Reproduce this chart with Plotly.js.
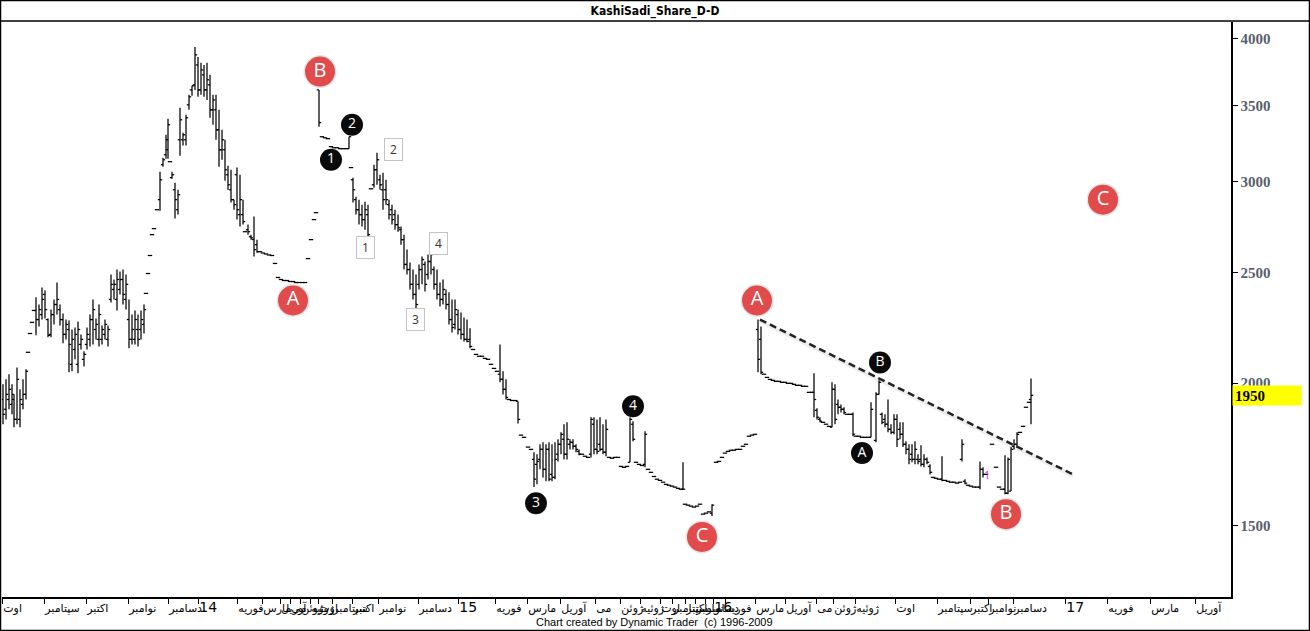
<!DOCTYPE html>
<html><head><meta charset="utf-8">
<script src="https://cdn.plot.ly/plotly-3.0.1.min.js"></script>
<style>html,body{margin:0;padding:0;background:#fff}#chart{width:1310px;height:631px}</style>
</head><body><div id="chart"></div>
<script>
const N = null;
// trading-day position of each bar on the chart's time axis
const day = [
1,4,7,10,12,15,18,21,24,26, 28,30,32,34,37,40,43,46,49,52,
55,58,61,64,67,70,73,76,79,82, 85,88,91,94,97,100,103,106,109,112,
115,118,121,124,127,130,133,136,139,142, 144,146,148,150,152,155,158,161,164,166,
168,170,173,176,178,181,184,187,190,193, 196,199,202,205,208,211,214,217,220,223,
226,229,232,235,238,241,243,246,249,252, 255,258,261,264,267,270,273,276,279,282,
285,288,291,294,297,300,303,306,309,312, 314,317,320,323,326,329,332,335,338,341,
344,347,349,351,354,357,360,363,366,369, 372,375,378,381,384,387,390,393,396,399,
402,405,408,411,414,417,420,423,426,429, 432,435,438,441,444,447,450,453,456,459,
462,465,468,471,474,477,480,483,486,489, 492,495,498,501,504,507,510,513,516,519,
522,526,529,532,535,538,541,544,547,550, 553,556,559,562,565,568,571,574,577,580,
583,586,589,592,595,598,601,604,607,610, 613,616,619,622,625,628,631,634,637,640,
643,646,649,652,655,658,661,664,667,670, 673,676,679,681,683,686,689,692,695,698,
701,704,707,710,714,717,720,723,726,729, 732,735,738,741,744,747,750,753,756,759,
762,765,768,771,774,777,780,783,786,789, 792,795,798,801,804,807,810,812,815,818,
821,824,827,830,833,836,839,842,845,848, 851,854,857,860,863,866,869,874,877,880,
883,886,889,892,895,898,901,904,907,910, 913,916,919,922,925,928,931,934,937,940,
943,946,949,952,955,958,960,963,966,969, 972,975,978,981,984,990,994,997,1000,1003,
1006,1009,1012,1015,1018,1021,1024,1027,1029];
// N = flat session (open/high/low equal close)
const openP = [
1935,1897,1935,1916,1935,1859,1859,1916,1955,N, N,N,N,2315,2273,2296,2391,2273,2206,2296,
2343,2319,2273,2206,2228,2077,2140,2077,2162,2098, 2162,2184,2273,2228,2184,2184,2206,2184,2367,2415,
2367,2415,2464,2367,2273,2184,2184,2228,2228,2251, N,N,N,N,N,N,2894,3105,3168,3200,
N,3025,2952,2836,3265,3265,3265,3503,3610,3647, 3796,3610,3721,3610,3647,3468,3468,3331,3200,3200,
3043,2952,2894,3043,2808,2808,N,2724,2686,2670, 2643,N,N,N,N,N,N,N,N,N,
N,N,N,N,N,N,N,N,N,N, N,3610,N,N,N,N,N,N,N,N,
N,3207,N,3012,2894,2836,2808,2780,2808,N, 2982,3074,3012,2952,2952,2865,2836,2808,2752,2724,
2670,2540,2514,2440,2391,2440,2514,2540,2489,2555, 2514,2440,2391,2367,2391,2343,2273,2251,2296,2228,
2206,2184,2184,N,N,N,N,N,N,N, N,N,2036,2015,1975,N,N,N,1928,N,
N,N,N,1715,1698,1715,1750,1681,1750,1664, 1654,1733,1768,1786,1733,1768,1775,1761,1743,N,
N,N,1733,1841,1750,1768,1750,1740,N,N, N,N,N,N,N,1705,1841,N,N,N,
1698,N,N,N,N,N,N,N,N,N, N,N,N,1615,N,N,N,N,N,N,
N,N,N,1539,N,N,N,N,N,N, N,N,N,N,N,N,N,N,2228,2184,
N,N,N,N,N,N,N,N,N,N, N,N,N,N,N,N,N,1963,1893,1859,
N,N,N,1830,1975,1916,1905,1897,N,N, 1878,N,N,N,N,N,1793,1782,1955,1878,
1859,1841,1822,1811,1859,1822,1804,1768,1750,1733, 1715,1715,1715,1698,1715,1691,N,N,N,1648,
N,N,N,N,N,N,1715,1641,N,N, N,N,1622,1681,N,N,N,N,N,1615,
1602,1609,1761,1768,N,N,N,N,1935];
const highP = [
1995,2015,2036,1995,1955,2064,1975,2015,2056,N, N,N,N,2377,2343,2425,2410,2278,2319,2367,
2449,2343,2301,2273,2269,2228,2237,2264,2206,2132, 2237,2296,2367,2278,2343,2246,2273,2246,2489,2464,
2514,2504,2514,2489,2367,2296,2315,2296,2315,2343, N,N,N,N,N,N,3062,3149,3298,3406,
N,3062,2994,2952,3482,3311,3433,3574,3640,3936, 3858,3812,3796,3812,3721,3574,3574,3468,3331,3265,
3099,3074,2894,3087,3043,2894,N,2752,2697,2797, 2670,N,N,N,N,N,N,N,N,N,
N,N,N,N,N,N,N,N,N,N, N,3610,N,N,N,N,N,N,N,N,
N,3285,N,3025,2911,2894,2865,2882,2865,N, 3105,3181,3043,3055,3012,2894,2865,2836,2808,2741,
2697,2617,2550,2514,2489,2540,2581,2555,2591,2601, 2530,2514,2449,2464,2415,2401,2367,2367,2319,2306,
2282,2273,2233,N,N,N,N,N,N,N, N,N,2162,2048,2015,N,N,N,1928,N,
N,N,N,1740,1733,1768,1775,1768,1775,1768, 1775,1786,1811,1841,1848,1786,1786,1768,1750,N,
N,N,1867,1867,1859,1867,1841,1859,N,N, N,N,N,N,N,1867,1852,N,N,N,
1815,N,N,N,N,N,N,N,N,N, N,N,N,1705,N,N,N,N,N,N,
N,N,N,1567,N,N,N,N,N,N, N,N,N,N,N,N,N,N,2273,2242,
N,N,N,N,N,N,N,N,N,N, N,N,N,N,N,N,N,2040,1901,1867,
N,N,N,2003,1995,1935,1916,1905,N,N, 1885,N,N,N,N,N,1924,1963,2011,1885,
1878,1935,1841,1878,1878,1848,1848,1779,1768,1768, 1779,1733,1765,1733,1722,1698,N,N,N,1726,
N,N,N,N,N,N,1786,1648,N,N, N,N,1708,1688,N,N,N,N,N,1729,
1722,1758,1786,1811,N,N,N,N,2019];
const lowP = [
1841,1859,1897,1878,1830,1841,1830,1897,1935,N, N,N,N,2202,2242,2273,2278,2193,2193,2251,
2296,2246,2167,2184,2044,2048,2098,2040,2140,2068, 2140,2153,2162,2184,2153,2162,2184,2153,2353,2367,
2315,2391,2343,2319,2145,2162,2162,2153,2184,2210, N,N,N,N,N,N,2830,3093,3143,3143,
N,3018,2786,2808,3162,3227,3227,3468,3567,3610, 3560,3574,3560,3538,3413,3365,3265,3093,3136,3006,
2952,2877,2836,2780,2741,2752,N,2697,2670,2581, 2601,N,N,N,N,N,N,N,N,N,
N,N,N,N,N,N,N,N,N,N, N,3352,N,N,N,N,N,N,N,N,
N,3207,N,2877,2808,2752,2741,2724,2686,N, 2964,2982,2952,2836,2865,2780,2752,2724,2713,2643,
2514,2489,2415,2367,2310,2415,2440,2405,2464,2489, 2415,2367,2334,2343,2319,2251,2215,2228,2206,2184,
2175,2171,2145,N,N,N,N,N,N,N, N,N,2003,1955,1935,N,N,N,1844,N,
N,N,N,1622,1631,1681,1654,1641,1641,1641, 1648,1708,1733,1715,1715,1750,1750,1740,1729,N,
N,N,1722,1733,1733,1743,1733,1726,N,N, N,N,N,N,N,1705,1779,N,N,N,
1688,N,N,N,N,N,N,N,N,N, N,N,N,1615,N,N,N,N,N,N,
N,N,N,1530,N,N,N,N,N,N, N,N,N,N,N,N,N,N,2044,2036,
N,N,N,N,N,N,N,N,N,N, N,N,N,N,N,N,N,1867,1859,1848,
N,N,N,1830,1841,1878,1885,1878,N,N, 1797,N,N,N,N,N,1793,1775,1955,1841,
1830,1811,1804,1804,1758,1786,1758,1733,1698,1705, 1698,1698,1691,1688,1698,1664,N,N,N,1641,
N,N,N,N,N,N,1708,1631,N,N, N,N,1615,1654,N,N,N,N,N,1599,
1599,1609,1750,1761,N,N,N,N,1841];
const closeP = [
1878,1955,1975,1955,1859,2015,1935,1955,2048,2128, 2210,2260,2315,2273,2319,2367,2319,2202,2296,2343,
2367,2273,2206,2251,2162,2184,2206,2228,2184,2119, 2206,2273,2319,2251,2296,2228,2251,2228,2440,2440,
2464,2464,2391,2440,2184,2228,2273,2184,2273,2319, 2396,2494,2586,2697,2730,2836,3012,3136,3265,3365,
3124,3043,2894,2923,3399,3298,3413,3560,3640,3874, 3610,3758,3610,3684,3468,3538,3331,3200,3265,3074,
2982,2894,2865,2836,2894,2769,2713,2713,2680,2617, 2606,2606,2599,2594,2589,2586,2545,2474,2464,2459,
2459,2454,2454,2449,2449,2449,2449,2570,2670,2780, 2819,3380,3285,3278,3272,3220,3213,3213,3207,3207,
3207,3285,3087,2952,2836,2808,2780,2836,2697,2958, 3074,3136,2982,2894,2894,2808,2780,2752,2735,2670,
2540,2514,2440,2391,2343,2514,2565,2440,2555,2591, 2440,2391,2367,2415,2343,2273,2237,2319,2228,2206,
2184,2175,2153,2140,2119,2111,2111,2102,2098,2077, 2060,2048,2015,1975,1943,1935,1931,1931,1859,1801,
1793,1758,1750,1648,1708,1750,1681,1750,1648,1654, 1715,1768,1804,1733,1786,1775,1761,1750,1733,1733,
1726,1722,1859,1750,1743,1750,1740,1822,1722,1719, 1722,1722,1691,1688,1691,1859,1786,1705,1698,1694,
1804,1681,1671,1657,1648,1644,1638,1631,1628,1625, 1622,1618,1615,1615,1567,1564,1561,1558,1561,1567,
1536,1539,1543,1564,1705,1708,1722,1737,1743,1747, 1747,1750,1750,1761,1768,1797,1801,1804,2098,2044,
2036,2023,2015,2011,2007,2007,2003,2003,1999,1999, 1995,1991,1991,1987,1987,1963,1963,1935,1867,1852,
1848,1841,1833,1975,1859,1905,1897,1885,1878,1878, 1804,1797,1797,1793,1793,1793,1897,1955,2003,1848,
1841,1822,1811,1859,1786,1804,1768,1750,1715,1715, 1750,1708,1698,1715,1705,1671,1654,1651,1648,1644,
1644,1641,1638,1638,1635,1638,1768,1635,1628,1625, 1622,1622,1681,1664,1664,1768,1688,1622,1615,1602,
1715,1750,1768,1804,1811,1833,1905,1924,1951];

// month ticks on the time axis
const monthTickDays = [0,42,84,126,166,196,235,260,278,288,298,308,316,330,350,376,416,456,493,525,
558,593,618,638,658,670,683,693,703,711,723,753,783,814,831,853,893,935,968,986,1011,1063,1105,1148,1193];
const monthTickText = ['اوت','سپتامبر','اکتبر','نوامبر','دسامبر','14','فوریه','مارس','آوریل','می','ژوئن','ژوئیه','اوت','سپتامبر','اکتبر','نوامبر','دسامبر','15','فوریه','مارس',
'آوریل','می','ژوئن','ژوئیه','اوت','سپتامبر','اکتبر','نوامبر','دسامبر','16','فوریه','مارس','آوریل','می','ژوئن','ژوئیه','اوت','سپتامبر','اکتبر','نوامبر','دسامبر','17','فوریه','مارس','آوریل'];
const priceTicks = [1500,2000,2500,3000,3500,4000];
const lastPrice = 1950;

// wave labels
const redX = [318,291,700,755,1004,1101];
const redY = [3746,2362,1467,2362,1536,2894];
const redT = ['B','A','C','A','B','C'];
const blackX = [350,329,534,631,878,860];
const blackY = [3365,3136,1570,1909,2085,1737];
const blackT = ['2','1','3','4','B','A'];
const whiteX = [391,363,436,413];
const whiteY = [3200,2627,2649,2273];
const whiteT = ['2','1','4','3'];
const trendX = [758,1071];
const trendY = [2273,1664];

const n = day.length;
if (openP.length!==n||highP.length!==n||lowP.length!==n||closeP.length!==n)
  throw new Error('length mismatch '+[n,openP.length,highP.length,lowP.length,closeP.length].join(','));

const bx=[], by=[];
const tk = 2.2;
for (let i=0;i<n;i++){
  const c=closeP[i], o=openP[i]??c, h=highP[i]??c, l=lowP[i]??c, x=day[i];
  if (h!==l){ bx.push(x,x,null); by.push(l,h,null); }
  bx.push(x-tk,x,null); by.push(o,o,null);
  bx.push(x,x+tk,null); by.push(c,c,null);
}

const traces = [
  {type:'scatter',mode:'lines',x:bx,y:by,line:{color:'#000',width:1.25,simplify:false},hoverinfo:'skip'},
  {type:'scatter',mode:'lines',x:trendX,y:trendY.map(v=>v*0.997),line:{color:'rgba(0,0,0,0.07)',width:4},hoverinfo:'skip'},
  {type:'scatter',mode:'lines',x:trendX,y:trendY,line:{color:'#222',width:2.5,dash:'7px,4px'},hoverinfo:'skip'},
  {type:'scatter',mode:'markers',x:redX,y:redY,marker:{size:33,color:'rgba(0,0,0,0.10)'},hoverinfo:'skip'},
  {type:'scatter',mode:'markers+text',x:redX,y:redY,text:redT,textposition:'middle center',
   marker:{size:30,color:'#e24b4b'},textfont:{family:'Open Sans, DejaVu Sans',size:20,color:'#fff'},cliponaxis:false,hoverinfo:'skip'},
  {type:'scatter',mode:'markers+text',x:blackX,y:blackY,text:blackT,textposition:'middle center',
   marker:{size:22,color:'#0a0a0a'},textfont:{family:'Open Sans, DejaVu Sans',size:14,color:'#fff'},hoverinfo:'skip'},
  {type:'scatter',mode:'text',x:[985],y:[1658],text:['1'],textfont:{size:10,color:'#ff00ff'},hoverinfo:'skip'}
];

const annotations = whiteX.map((x,i)=>({x:x,y:Math.log10(whiteY[i]),xref:'x',yref:'y',text:whiteT[i],showarrow:false,
  bgcolor:'#fff',bordercolor:'#c4c4c4',borderwidth:1,borderpad:2,width:13,
  font:{family:'Open Sans, DejaVu Sans',size:12,color:'#333'}}));
annotations.push({xref:'paper',x:1.0005,xanchor:'left',yref:'y',y:Math.log10(lastPrice),text:'<b>'+lastPrice+'</b>',
  showarrow:false,bgcolor:'#ffff00',width:64,height:15,align:'left',borderpad:2,
  font:{family:'Liberation Serif',size:15,color:'#000'}});
annotations.push({xref:'paper',yref:'paper',x:0.5313,y:(597-622)/575,yanchor:'middle',xanchor:'center',
  text:'Chart created by Dynamic Trader  (c) 1996-2009',
  showarrow:false,font:{family:'Liberation Sans',size:11,color:'#000'}});

const xpx = v => (v-2)/1229, ypx = v => (597-v)/575;
const layout = {
  width:1310,height:631,margin:{l:2,r:79,t:22,b:34},
  paper_bgcolor:'#fff',plot_bgcolor:'#fff',showlegend:false,
  title:{text:'<b>KashiSadi_Share_D-D</b>',x:0.5,xref:'container',y:1-11/631,yref:'container',yanchor:'middle',
    font:{family:'DejaVu Sans Condensed, DejaVu Sans',size:12,color:'#000'}},
  xaxis:{range:[0,1229],showgrid:false,zeroline:false,showline:true,linecolor:'#000',linewidth:1.5,
    tickmode:'array',tickvals:monthTickDays,ticktext:monthTickText.map(t=>/^\d+$/.test(t)?'<span style="font-size:14px">'+t+'</span>':t),
    ticks:'outside',ticklen:5,tickcolor:'#000',tickangle:0,ticklabelposition:'outside right',
    tickfont:{family:'DejaVu Sans',size:11,color:'#000'}},
  yaxis:{type:'log',range:[3.1139,3.6169],side:'right',showgrid:false,zeroline:false,showline:true,linecolor:'#000',linewidth:1.5,
    tickmode:'array',tickvals:priceTicks,ticktext:priceTicks.map(v=>'<b>'+v+'</b>'),ticks:'outside',ticklen:5,tickcolor:'#000',
    tickfont:{family:'Liberation Serif',size:15,color:'#59606d'}},
  annotations:annotations,
  shapes:[
    {type:'rect',xref:'paper',yref:'paper',x0:xpx(0.5),x1:xpx(1309.5),y0:ypx(630.5),y1:ypx(0.5),line:{color:'#000',width:1.5},layer:'above'},
    {type:'line',xref:'paper',yref:'paper',x0:xpx(0.5),x1:xpx(1309.5),y0:ypx(21),y1:ypx(21),line:{color:'#000',width:1.5},layer:'above'}
  ]
};
Plotly.newPlot('chart',traces,layout,{staticPlot:true,displayModeBar:false});
</script></body></html>
